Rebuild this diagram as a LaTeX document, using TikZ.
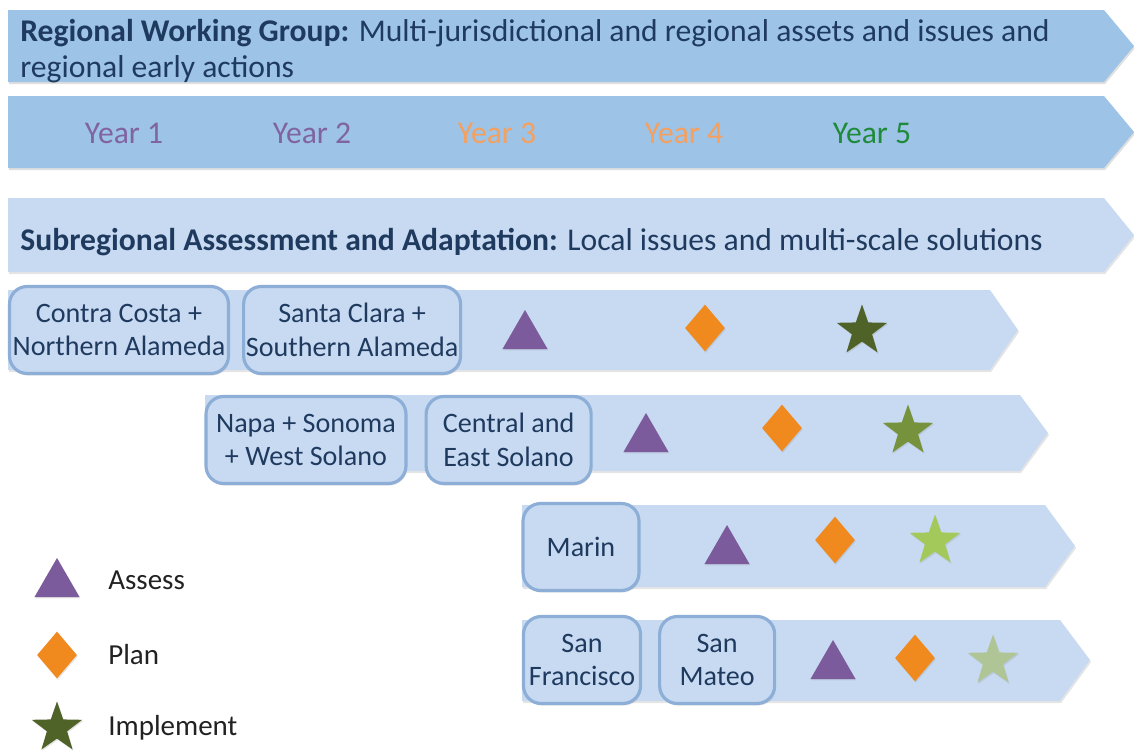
\documentclass[tikz,border=0pt]{standalone}
\usepackage{fontspec}
\setmainfont{Carlito}
\usetikzlibrary{positioning}
\usetikzlibrary{shapes.geometric}
\usetikzlibrary{shadows}

\definecolor{bandblue}{HTML}{9DC3E6}
\definecolor{paleblue}{HTML}{C8DAF1}
\definecolor{boxedge}{HTML}{8DAFD7}
\definecolor{inkblue}{HTML}{1F3A5F}
\definecolor{legendink}{HTML}{222222}
\definecolor{yrpurple}{HTML}{8064A2}
\definecolor{yrorange}{HTML}{F5A05E}
\definecolor{yrgreen}{HTML}{1E8A3A}
\definecolor{assesspurple}{HTML}{7B5B9C}
\definecolor{planorange}{HTML}{F08A1E}
\definecolor{implA}{HTML}{4F6228}
\definecolor{implB}{HTML}{76923C}
\definecolor{implC}{HTML}{A4C95B}
\definecolor{implD}{HTML}{B0C596}

\begin{document}
\begin{tikzpicture}[x = 0.02cm, y = -0.02cm,
band/.style = {fill = bandblue, drop shadow = {opacity = 0.25, shadow xshift = 0.6pt, shadow yshift = -1.2pt}},
bar/.style = {fill = paleblue, drop shadow = {opacity = 0.2, shadow xshift = 0.6pt, shadow yshift = -1.2pt}},
bandtext/.style = {anchor = west, align = left, text = inkblue, inner sep = 0pt, font = \fontsize{18}{20.5}\selectfont},
year/.style = {inner sep = 0pt, font = \fontsize{18}{20}\selectfont},
county/.style = {draw = boxedge, line width = 1.8pt, fill = paleblue, rounded corners = 10pt, align = center, text = inkblue, inner sep = 0pt, minimum height = 1.74cm, font = \fontsize{16}{19.3}\selectfont, drop shadow = {opacity = 0.2, shadow xshift = 0.6pt, shadow yshift = -1.2pt}},
assess/.style = {regular polygon, regular polygon sides = 3, fill = assesspurple, minimum size = 1.04cm, inner sep = 0pt, drop shadow = {opacity = 0.2, shadow xshift = 0.5pt, shadow yshift = -0.8pt}},
plan/.style = {diamond, fill = planorange, minimum width = 0.8cm, minimum height = 0.94cm, inner sep = 0pt, drop shadow = {opacity = 0.2, shadow xshift = 0.5pt, shadow yshift = -0.8pt}},
implement/.style = {star, star points = 5, star point ratio = 2.5, minimum size = 1.06cm, inner sep = 0pt, drop shadow = {opacity = 0.2, shadow xshift = 0.5pt, shadow yshift = -0.8pt}},
legendtext/.style = {anchor = west, text = legendink, inner sep = 0pt, font = \fontsize{16.5}{19}\selectfont},
]
\fill[white] (0, 0) rectangle (1134, 751);
\useasboundingbox (0, 0) rectangle (1134, 751);

% regional bands
\fill[band] (8, 10) -- (1104, 10) -- (1134, 46) -- (1104, 82) -- (8, 82) -- cycle;
\fill[band] (8, 96) -- (1104, 96) -- (1134, 132) -- (1104, 168) -- (8, 168) -- cycle;
\fill[bar] (8, 198) -- (1104, 198) -- (1134, 235) -- (1104, 272) -- (8, 272) -- cycle;

\node[bandtext] (rwg) at (20, 51) {\textbf{Regional Working Group:} Multi-jurisdictional and regional assets and issues and\\regional early actions};
\node[year, text = yrpurple] (y1) at (124, 133) {Year 1};
\node[year, text = yrpurple] (y2) at (312, 133) {Year 2};
\node[year, text = yrorange] (y3) at (497, 133) {Year 3};
\node[year, text = yrorange] (y4) at (684, 133) {Year 4};
\node[year, text = yrgreen] (y5) at (872, 133) {Year 5};
\node[bandtext] (sub) at (20, 242) {\textbf{Subregional Assessment and Adaptation:} Local issues and multi-scale solutions};

% subregional rows
\fill[bar] (8, 290) -- (990, 290) -- (1018, 330) -- (990, 370) -- (8, 370) -- cycle;
\fill[bar] (205, 395) -- (1020, 395) -- (1048, 433) -- (1020, 471) -- (205, 471) -- cycle;
\fill[bar] (522, 505) -- (1045, 505) -- (1075, 546) -- (1045, 587) -- (522, 587) -- cycle;
\fill[bar] (522, 620) -- (1060, 620) -- (1090, 660) -- (1060, 701) -- (522, 701) -- cycle;

\node[county, minimum width = 4.38cm] (cc) at (119, 330) {Contra Costa +\\Northern Alameda};
\node[county, minimum width = 4.34cm] (sc) [right = 0.24cm of cc] {Santa Clara +\\Southern Alameda};
\node[county, minimum width = 4.0cm] (ns) at (306, 440) {Napa + Sonoma\\+ West Solano};
\node[county, minimum width = 3.3cm] (ce) [right = 0.34cm of ns] {Central and\\East Solano};
\node[county, minimum width = 2.32cm] (ma) at (581, 547) {Marin};
\node[county, minimum width = 2.34cm] (sf) at (582, 660) {San\\Francisco};
\node[county, minimum width = 2.3cm] (sm) [right = 0.32cm of sf] {San\\Mateo};

\node[assess] (a1) at (525, 336) {};
\node[plan] (p1) at (705, 328) {};
\node[implement, fill = implA] (i1) at (862, 331) {};

\node[assess] (a2) at (646, 439) {};
\node[plan] (p2) at (782, 428) {};
\node[implement, fill = implB] (i2) at (908, 431) {};

\node[assess] (a3) at (727, 551) {};
\node[plan] (p3) at (835, 540) {};
\node[implement, fill = implC] (i3) at (935, 541) {};

\node[assess] (a4) at (833, 666) {};
\node[plan] (p4) at (915, 658) {};
\node[implement, fill = implD] (i4) at (993, 661) {};

% legend
\node[assess] (la) at (57, 584) {};
\node[legendtext] (lat) at (108, 580) {Assess};
\node[plan] (lp) at (57, 655) {};
\node[legendtext] (lpt) at (108, 655) {Plan};
\node[implement, fill = implA] (li) at (57, 728) {};
\node[legendtext] (lit) at (108, 728) {Implement};
\end{tikzpicture}
\end{document}
